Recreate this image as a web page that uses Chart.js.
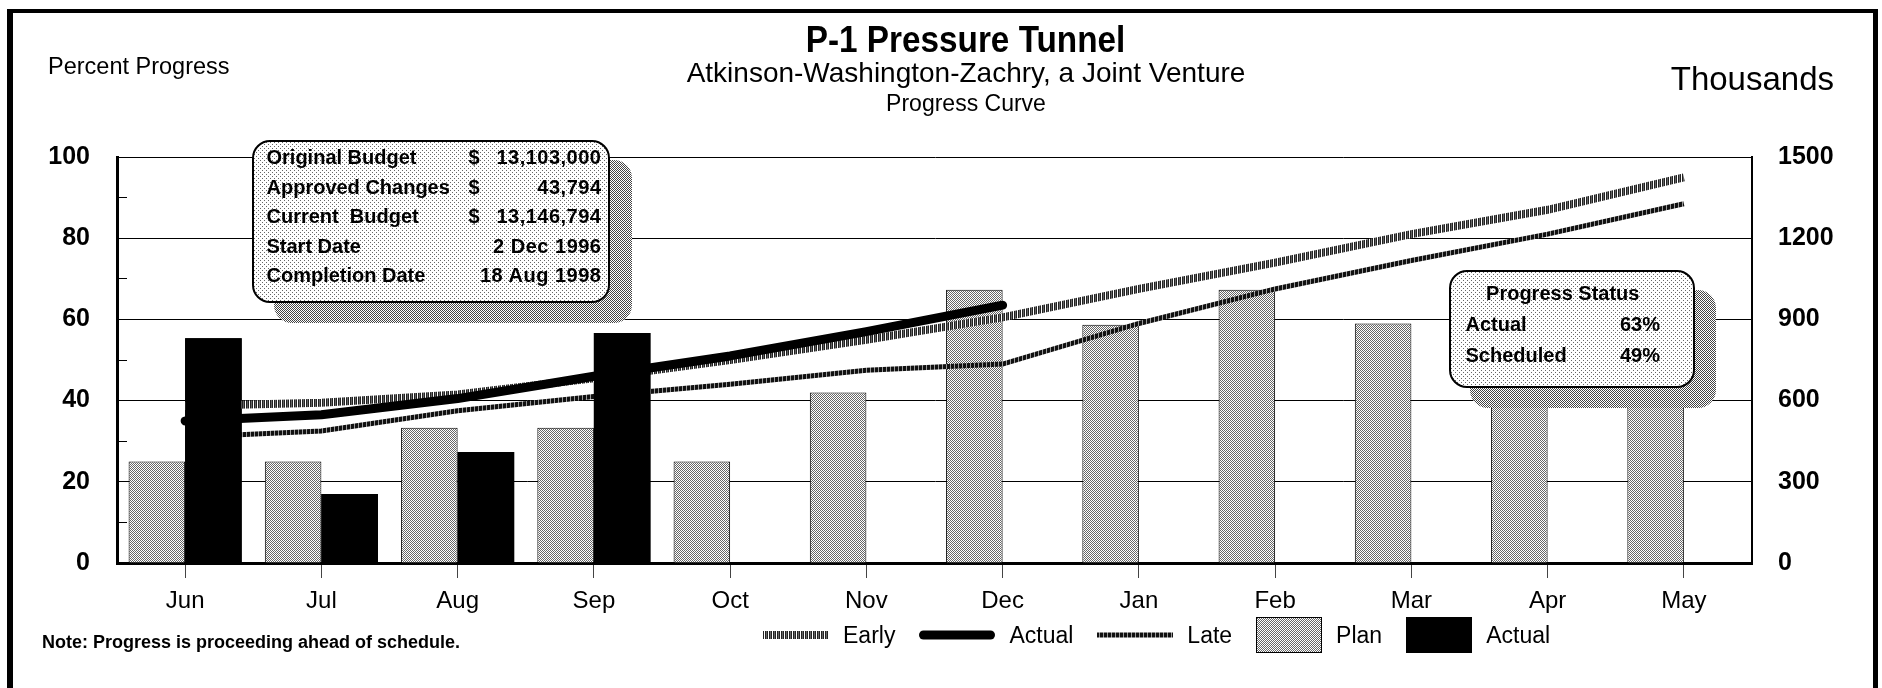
<!DOCTYPE html>
<html>
<head>
<meta charset="utf-8">
<title>P-1 Pressure Tunnel</title>
<script src="https://cdn.jsdelivr.net/npm/chart.js@4.4.1/dist/chart.umd.min.js"></script>
<style>
  html, body { margin: 0; padding: 0; background: #fff; }
  body { position: relative; width: 1882px; height: 688px; overflow: hidden;
         font-family: "Liberation Sans", Arial, Helvetica, sans-serif; color: #000; }
  #chartBox { position: absolute; left: 0; top: 0; width: 1882px; height: 688px; }
  .t { position: absolute; white-space: nowrap; line-height: 1; }
  .c { left: 0; width: 1932px; text-align: center; }
  #frame { position: absolute; left: 7px; top: 9px; width: 1860px; height: 720px;
           border-left: 6px solid #000; border-top: 4px solid #000; border-right: 5px solid #000; }
  .shadow, .box { position: absolute; border-radius: 18px; box-sizing: border-box; }
  .box { border: 2.5px solid #000; font-weight: bold; font-size: 20px; }
  .row { display: flex; white-space: nowrap; }
  #legend { position: absolute; left: 763px; top: 617px; height: 36px; display: flex;
            align-items: center; font-size: 23px; white-space: nowrap; }
  .item { display: flex; align-items: center; margin-right: 24px; }
  .item canvas { margin-right: 14px; display: block; }
</style>
</head>
<body>
<div id="frame"></div>
<div id="chartBox"><canvas id="progressChart"></canvas></div>

<div class="t c" style="top:21px;font-size:37px;font-weight:bold;"><span style="display:inline-block;transform:scaleX(0.9);">P-1 Pressure Tunnel</span></div>
<div class="t c" style="top:59px;font-size:28px;">Atkinson-Washington-Zachry, a Joint Venture</div>
<div class="t c" style="top:92px;font-size:23px;">Progress Curve</div>
<div class="t" style="left:48px;top:55px;font-size:23.5px;">Percent Progress</div>
<div class="t" style="right:48px;top:62px;font-size:33px;">Thousands</div>
<div class="t" style="left:42px;top:633px;font-size:18px;font-weight:bold;">Note: Progress is proceeding ahead of schedule.</div>

<div class="shadow" id="budgetShadow" style="left:274px;top:160px;width:358px;height:163px;"></div>
<div class="box" id="budgetBox" style="left:252px;top:140px;width:358px;height:163px;padding:1px 6px 0 12.5px;line-height:29.5px;"></div>
<div class="shadow" id="statusShadow" style="left:1470px;top:290px;width:246px;height:118px;"></div>
<div class="box" id="statusBox" style="left:1449px;top:270px;width:246px;height:118px;padding:6px 33px 0 14.5px;line-height:31px;"></div>

<div id="legend"></div>

<script>
// ==== Data ====
const months = ['Jun', 'Jul', 'Aug', 'Sep', 'Oct', 'Nov', 'Dec', 'Jan', 'Feb', 'Mar', 'Apr', 'May'];

// cumulative progress curves, percent (left axis)
const earlyPct  = [38.7, 39.5, 41.5, 45.5, 50, 55, 60.5, 67.5, 74, 81, 87, 95];
const actualPct = [35, 36.5, 40.5, 46, 51, 57, 63.5, null, null, null, null, null];
const latePct   = [31, 32.5, 37.5, 41, 44, 47.5, 49, 59, 67.5, 74.5, 81, 88.5];

// monthly amounts, thousands (right axis)
const planCost   = [375, 375, 500, 500, 375, 630, 1010, 880, 1010, 885, 750, 630];
const actualCost = [830, 255, 410, 850, null, null, null, null, null, null, null, null];

const pctTicks  = [0, 20, 40, 60, 80, 100];
const costTicks = [0, 300, 600, 900, 1200, 1500];

const budgetRows = [
    ['Original Budget', '$', '13,103,000'],
    ['Approved Changes', '$', '43,794'],
    ['Current\u00a0 Budget', '$', '13,146,794'],
    ['Start Date', '', '2 Dec 1996'],
    ['Completion Date', '', '18 Aug 1998']
];
const statusTitle = 'Progress Status';
const statusRows = [['Actual', '63%'], ['Scheduled', '49%']];

// ==== Patterns (stipple / hatch like the old print) ====
const patternSpecs = {
    plan:   { rows: ['#.', '.#'], colors: { '#': '#666', '.': '#fff' } },
    early:  { rows: ['#.#o'], colors: { '#': '#222', '.': '#fff', 'o': '#666' } },
    late:   { rows: ['##.#'], colors: { '#': '#111', '.': '#999' } },
    box:    { rows: ['#...', '....', '..#.', '....'], colors: { '#': '#666', '.': '#fff' } },
    shadow: { rows: ['#.', '.#'], colors: { '#': '#444', '.': '#fff' } }
};

function tileCanvas(spec) {
    const c = document.createElement('canvas');
    c.width = spec.rows[0].length;
    c.height = spec.rows.length;
    const g = c.getContext('2d');
    spec.rows.forEach((row, y) => {
        [...row].forEach((ch, x) => {
            g.fillStyle = spec.colors[ch];
            g.fillRect(x, y, 1, 1);
        });
    });
    return c;
}
function makePattern(ctx, name) {
    return ctx.createPattern(tileCanvas(patternSpecs[name]), 'repeat');
}

// info boxes get the same stipple as css background
document.getElementById('budgetBox').style.background = 'url(' + tileCanvas(patternSpecs.box).toDataURL() + ')';
document.getElementById('statusBox').style.background = 'url(' + tileCanvas(patternSpecs.box).toDataURL() + ')';
document.getElementById('budgetShadow').style.background = 'url(' + tileCanvas(patternSpecs.shadow).toDataURL() + ')';
document.getElementById('statusShadow').style.background = 'url(' + tileCanvas(patternSpecs.shadow).toDataURL() + ')';

// ==== Info boxes ====
const budgetBox = document.getElementById('budgetBox');
budgetRows.forEach(r => {
    const row = document.createElement('div');
    row.className = 'row';
    row.innerHTML = '<span style="width:202px">' + r[0] + '</span>' +
        '<span style="width:133px;display:flex;justify-content:space-between"><span>' + r[1] + '</span><span style="letter-spacing:0.5px">' + r[2] + '</span></span>';
    budgetBox.appendChild(row);
});
const statusBox = document.getElementById('statusBox');
const st = document.createElement('div');
st.style.textAlign = 'center';
st.textContent = statusTitle;
statusBox.appendChild(st);
statusRows.forEach(r => {
    const row = document.createElement('div');
    row.className = 'row';
    row.style.justifyContent = 'space-between';
    row.innerHTML = '<span>' + r[0] + '</span><span>' + r[1] + '</span>';
    statusBox.appendChild(row);
});

// ==== Chart ====
Chart.defaults.font.family = '"Liberation Sans", Arial, sans-serif';
Chart.defaults.color = '#000';

const ctx = document.getElementById('progressChart').getContext('2d');

const ACTUAL_BAR = 4;
// actual bars sit above the curves, plan bars below them
const actualBarsOnTop = {
    id: 'actualBarsOnTop',
    afterDatasetsDraw(chart) {
        chart.getDatasetMeta(ACTUAL_BAR).controller.draw();
    }
};

const chart = new Chart(ctx, {
    type: 'bar',
    data: {
        labels: months,
        datasets: [
            { type: 'line', label: 'Actual', data: actualPct, yAxisID: 'y', borderColor: '#000', borderWidth: 9,
              borderCapStyle: 'round', borderJoinStyle: 'round', pointRadius: 0, tension: 0, order: 0, swatch: 'line' },
            { type: 'line', label: 'Early', data: earlyPct, yAxisID: 'y', borderColor: makePattern(ctx, 'early'), borderWidth: 8,
              pointRadius: 0, tension: 0, order: 0, swatch: 'line', patternName: 'early' },
            { type: 'line', label: 'Late', data: latePct, yAxisID: 'y', borderColor: makePattern(ctx, 'late'), borderWidth: 5,
              pointRadius: 0, tension: 0, order: 0, swatch: 'line', patternName: 'late' },
            { type: 'bar', label: 'Plan', data: planCost, yAxisID: 'y1', backgroundColor: makePattern(ctx, 'plan'),
              borderColor: '#000', borderWidth: 1, categoryPercentage: 0.83, barPercentage: 1, order: 1,
              swatch: 'box', patternName: 'plan' },
            { type: 'bar', label: 'Actual', data: actualCost, yAxisID: 'y1', backgroundColor: '#000',
              categoryPercentage: 0.83, barPercentage: 1, order: 1, swatch: 'box' }
        ]
    },
    options: {
        responsive: true,
        maintainAspectRatio: false,
        animation: false,
        layout: { padding: { top: 157, left: 0, right: 0, bottom: 0 } },
        plugins: {
            legend: { display: false },
            tooltip: { enabled: false }
        },
        scales: {
            x: {
                offset: true,
                grid: { offset: false, drawOnChartArea: false, drawTicks: true, tickLength: 15, color: '#444', lineWidth: 1 },
                border: { color: '#000', width: 3 },
                ticks: { color: '#000', font: { size: 24 }, padding: 9, maxRotation: 0, autoSkip: false },
                afterFit: s => { s.height = 125; }
            },
            y: {
                position: 'left',
                min: pctTicks[0],
                max: pctTicks[pctTicks.length - 1],
                ticks: {
                    stepSize: 10, padding: 37, color: '#000', font: { size: 25, weight: 'bold' },
                    callback: v => pctTicks.includes(v) ? v : ''
                },
                grid: {
                    color: c => pctTicks.includes(c.tick.value) ? '#000' : 'rgba(0,0,0,0)',
                    tickColor: '#000', tickLength: -10, lineWidth: 1
                },
                border: { color: '#000', width: 3 },
                afterFit: s => { s.width = 117; }
            },
            y1: {
                position: 'right',
                min: costTicks[0],
                max: costTicks[costTicks.length - 1],
                ticks: {
                    stepSize: costTicks[1] - costTicks[0], padding: 26, color: '#000', font: { size: 25, weight: 'bold' },
                    callback: v => String(v)
                },
                grid: { drawOnChartArea: false, drawTicks: false },
                border: { color: '#000', width: 2 },
                afterFit: s => { s.width = 130; }
            }
        }
    },
    plugins: [actualBarsOnTop]
});

// ==== Legend (Early, Actual, Late, Plan, Actual) ====
const legendOrder = [1, 0, 2, 3, 4];
const legendEl = document.getElementById('legend');
legendOrder.forEach(i => {
    const ds = chart.data.datasets[i];
    const item = document.createElement('div');
    item.className = 'item';
    const sw = document.createElement('canvas');
    const g = sw.getContext('2d');
    if (ds.swatch === 'line') {
        sw.width = ds.label === 'Early' ? 66 : 76;
        sw.height = 14;
        g.strokeStyle = ds.patternName ? makePattern(g, ds.patternName) : ds.borderColor;
        g.lineWidth = ds.borderWidth;
        g.lineCap = ds.borderCapStyle || 'butt';
        const pad = g.lineCap === 'round' ? ds.borderWidth / 2 : 0;
        g.beginPath();
        g.moveTo(pad, 7);
        g.lineTo(sw.width - pad, 7);
        g.stroke();
    } else {
        sw.width = 66;
        sw.height = 36;
        g.fillStyle = ds.patternName ? makePattern(g, ds.patternName) : ds.backgroundColor;
        g.fillRect(0, 0, 66, 36);
        if (ds.borderWidth) {
            g.strokeStyle = ds.borderColor;
            g.lineWidth = 1;
            g.strokeRect(0.5, 0.5, 65, 35);
        }
    }
    item.appendChild(sw);
    const label = document.createElement('span');
    label.textContent = ds.label;
    item.appendChild(label);
    legendEl.appendChild(item);
});
</script>
</body>
</html>
